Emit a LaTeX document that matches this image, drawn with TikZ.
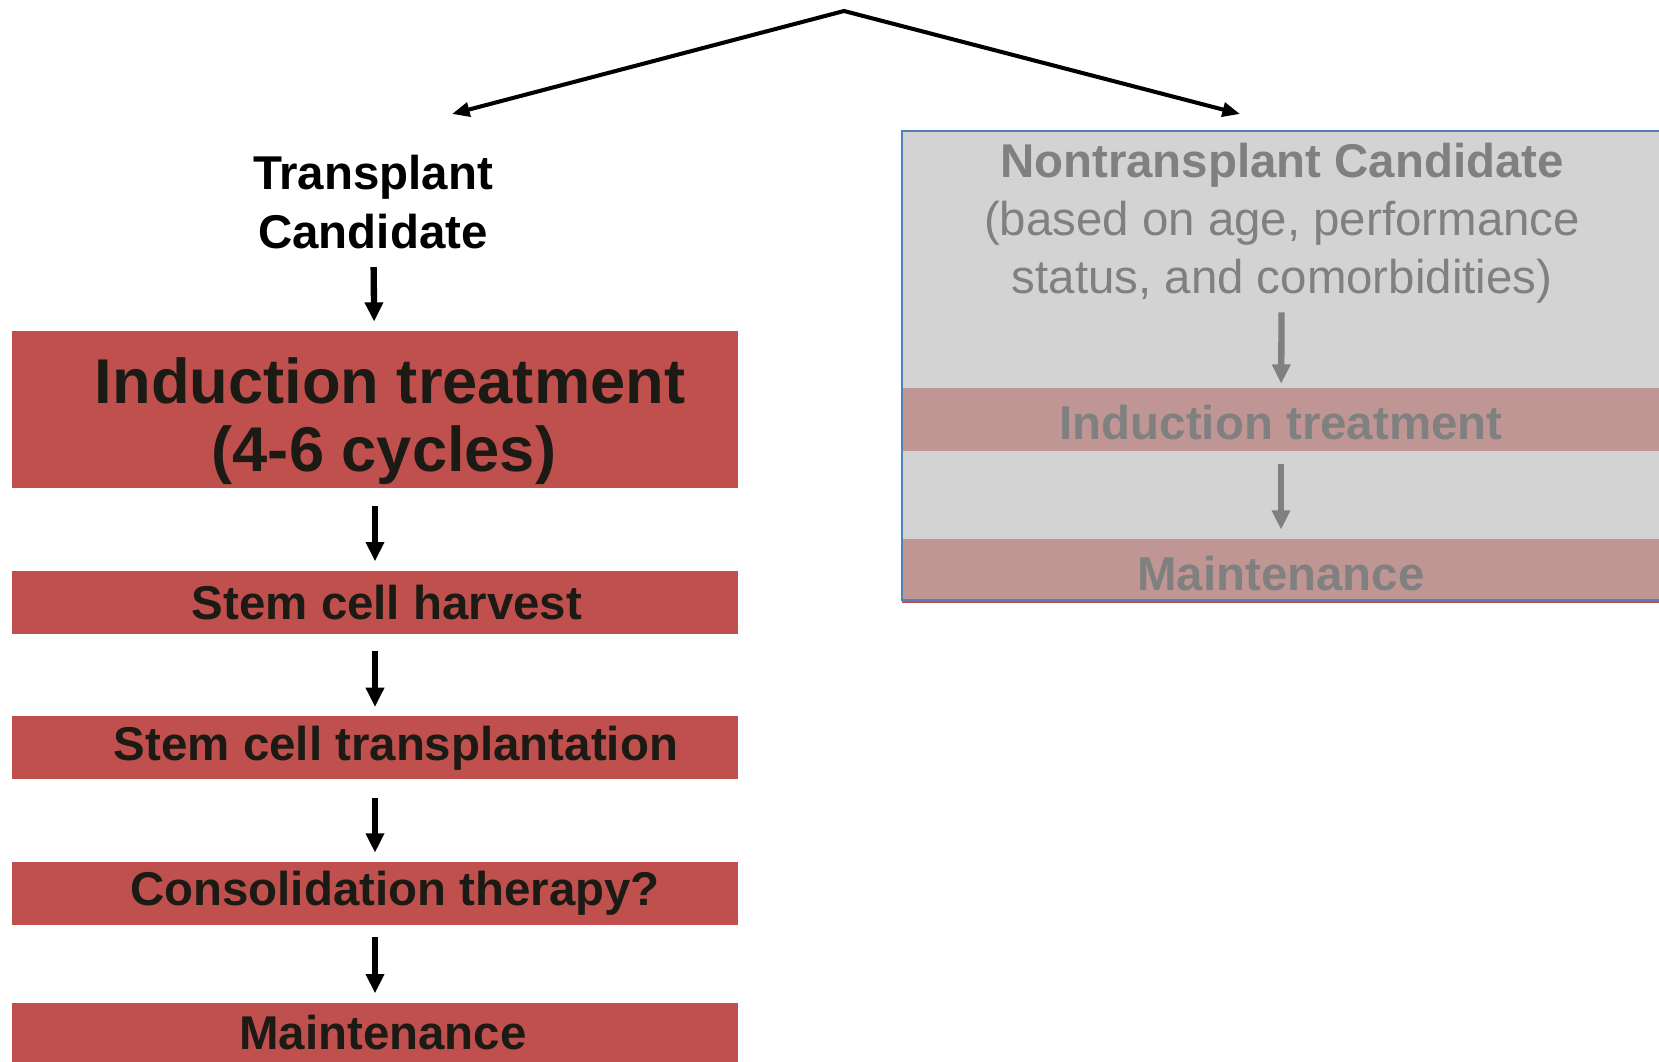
\documentclass[tikz,border=0pt]{standalone}
\usepackage{fontspec}
\setmainfont{Liberation Sans}
\usetikzlibrary{arrows.meta,positioning}

\definecolor{boxred}{RGB}{192,80,77}
\definecolor{bandred}{RGB}{192,150,149}
\definecolor{panelgray}{RGB}{211,211,211}
\definecolor{panelblue}{RGB}{79,129,189}
\definecolor{darktext}{RGB}{28,26,20}
\definecolor{greytext}{RGB}{128,128,128}

\begin{document}
\begin{tikzpicture}[x=0.02cm,y=-0.02cm,>={Triangle[length=11pt,width=10pt]},node distance=1.64cm,
  redbox/.style={fill=boxred,text=darktext,minimum width=14.52cm,minimum height=1.26cm,inner sep=0pt,font=\fontsize{27}{33}\selectfont\bfseries},
  band/.style={fill=bandred,text=greytext,minimum width=15.12cm,minimum height=1.26cm,inner sep=0pt,text height=23pt,font=\fontsize{27}{33}\selectfont\bfseries},
  nudge/.style={execute at begin node={\hspace*{#1}}},
  flow/.style={->,line width=3.6pt}]

\useasboundingbox (0,0) rectangle (1659,1061);

% split at the top
\coordinate (apex) at (844,11);
\coordinate (ltip) at (452,114);
\coordinate (rtip) at (1240,114);
\draw[<->,line width=2.3pt,>={Triangle[length=10pt,width=8pt]}] (ltip) -- (apex) -- (rtip);

% transplant side
\node[font=\fontsize{27}{33.5}\selectfont\bfseries,align=center,inner sep=0pt] (tc) at (373,202) {Transplant\\Candidate};
\node[redbox,minimum height=3.14cm,font=\fontsize{36}{39}\selectfont\bfseries,align=center,text depth=0pt] (ind) at (375,409.5) {\rule{0pt}{32pt}\hspace*{0.6cm}Induction treatment\\\hspace*{0.36cm}(4-6 cycles)};
 \node[redbox,nudge=0.48cm] (harv) [below=of ind] {Stem cell harvest};
 \node[redbox,nudge=0.84cm] (sct) [below=of harv] {Stem cell transplantation};
 \node[redbox,nudge=0.8cm] (cons) [below=of sct] {Consolidation therapy?};
 \node[redbox,nudge=0.32cm,minimum height=1.18cm] (maint) [below=1.54cm of cons] {Maintenance};

\path[flow,shorten >=0.18cm] (tc) edge[shorten <=0.36cm] (ind)
        (ind) edge[shorten <=0.36cm] (harv)
        (harv) edge[shorten <=0.34cm] (sct)
        (sct) edge[shorten <=0.36cm] (cons)
        (cons) edge[shorten <=0.24cm] (maint);

% nontransplant side
\node[fill=panelgray,minimum width=15.14cm,minimum height=9.38cm,inner sep=0pt] (panel) at (1281,365.5) {};
\node[font=\fontsize{27}{33}\selectfont,text=greytext,align=center,inner sep=0pt] (ntc) at (1282,223) {{\bfseries Nontransplant Candidate}\\(based on age, performance\\status, and comorbidities)};
\node[band] (nind) at (1281,419.5) {Induction treatment};
\node[band] (nmaint) at (1281,570.5) {Maintenance};

\path[flow,greytext,shorten >=0.08cm] (ntc) edge[shorten <=0.18cm] (nind)
        (nind) edge[shorten <=0.26cm,shorten >=0.18cm] (nmaint);

\draw[boxred,line width=1.2pt] ([yshift=-1.2pt]panel.south west) -- ([yshift=-1.2pt]panel.south east);
\draw[panelblue,line width=1pt] (panel.north west) rectangle (panel.south east);

\end{tikzpicture}
\end{document}
